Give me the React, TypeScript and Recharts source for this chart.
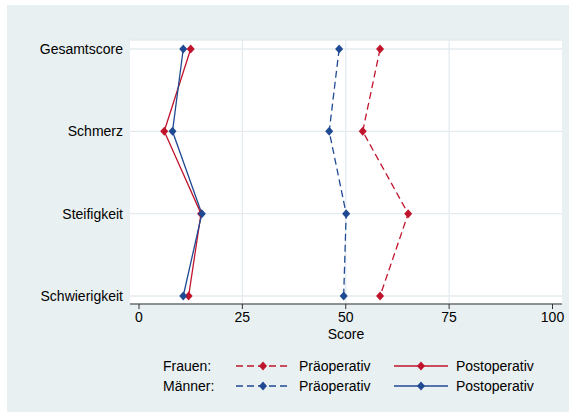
import React from 'react';
import { LineChart, Line, XAxis, YAxis, CartesianGrid, ReferenceLine } from 'recharts';

// WOMAC-Subskalen, Mittelwerte prä- und postoperativ nach Geschlecht
const categories = ['Gesamtscore', 'Schmerz', 'Steifigkeit', 'Schwierigkeit'];
const frauenPrae = [58.3, 54.1, 65.1, 58.3];
const frauenPost = [12.5, 6.1, 15.0, 12.0];
const maennerPrae = [48.4, 46.0, 50.1, 49.5];
const maennerPost = [10.7, 8.1, 15.2, 10.7];
const xTicks = [0, 25, 50, 75, 100];
const gridX = [25, 50, 75];

const RED = '#c0142c';
const BLUE = '#1f4a93';
const BG = '#e9f0f2';
const GRID = '#e4ecef';
const DASH = '7 4';
const FONT = '"Liberation Sans", Arial, Helvetica, sans-serif';

const rows = categories.map((name, i) => ({
  pos: i + 1,
  name,
  fPre: frauenPrae[i],
  fPost: frauenPost[i],
  mPre: maennerPrae[i],
  mPost: maennerPost[i],
}));

const diamond = (color: string) => (props: any) => {
  const { cx, cy, index } = props;
  if (cx == null || cy == null) return <g key={index} />;
  return (
    <polygon
      key={index}
      points={`${cx},${cy - 4.5} ${cx + 4},${cy} ${cx},${cy + 4.5} ${cx - 4},${cy}`}
      fill={color}
      stroke="none"
    />
  );
};

function LegendSample({ x, y, color, dashed }: { x: number; y: number; color: string; dashed: boolean }) {
  return (
    <g>
      <line x1={x} y1={y} x2={x + 54} y2={y} stroke={color} strokeWidth={1.3} strokeDasharray={dashed ? DASH : undefined} />
      <polygon points={`${x + 27},${y - 4.5} ${x + 31},${y} ${x + 27},${y + 4.5} ${x + 23},${y}`} fill={color} />
    </g>
  );
}

function LegendBox() {
  const rowsY = [361, 381];
  const groups = [
    { label: 'Frauen:', color: RED },
    { label: 'Männer:', color: BLUE },
  ];
  return (
    <svg width={562} height={407} style={{ position: 'absolute', left: 0, top: 0, pointerEvents: 'none' }}>
      {groups.map((g, i) => (
        <g key={g.label} fontFamily={FONT} fontSize={14} fill="#000">
          <text x={156} y={rowsY[i]} dy="0.36em">{g.label}</text>
          <LegendSample x={229} y={rowsY[i]} color={g.color} dashed />
          <text x={292} y={rowsY[i]} dy="0.36em">Präoperativ</text>
          <LegendSample x={387} y={rowsY[i]} color={g.color} dashed={false} />
          <text x={449} y={rowsY[i]} dy="0.36em">Postoperativ</text>
        </g>
      ))}
    </svg>
  );
}

export default function App() {
  return (
    <div style={{ position: 'absolute', left: 7, top: 5, width: 562, height: 407, background: BG, fontFamily: FONT }}>
      <LineChart
        width={562}
        height={407}
        data={rows}
        layout="vertical"
        margin={{ top: 35, right: 7, bottom: 68, left: 0 }}
      >
        <CartesianGrid vertical={false} stroke={GRID} strokeWidth={1.3} fill="#ffffff" />
        {gridX.map((v) => (
          <ReferenceLine key={v} x={v} stroke={GRID} strokeWidth={1.3} />
        ))}
        <XAxis
          type="number"
          dataKey="fPre"
          domain={[0, 100]}
          ticks={xTicks}
          padding={{ left: 9, right: 9.5 }}
          height={40}
          tickSize={5}
          tickMargin={3}
          stroke="#333"
          tick={{ fill: '#000', fontSize: 14, fontFamily: FONT }}
          tickLine={{ stroke: '#333' }}
          axisLine={{ stroke: '#333' }}
          label={{ value: 'Score', position: 'insideBottom', offset: 5, fill: '#000', fontSize: 14, fontFamily: FONT }}
          allowDataOverflow
        />
        <YAxis
          type="number"
          dataKey="pos"
          domain={[1, 4]}
          ticks={[1, 2, 3, 4]}
          width={123}
          padding={{ top: 9, bottom: 8 }}
          axisLine={false}
          tickLine={false}
          tickSize={0}
          tickMargin={7}
          tick={{ fill: '#000', fontSize: 14, fontFamily: FONT }}
          tickFormatter={(v: number) => categories[v - 1]}
        />
        <Line dataKey="fPre" stroke={RED} strokeWidth={1.3} strokeDasharray={DASH} dot={diamond(RED)} isAnimationActive={false} />
        <Line dataKey="fPost" stroke={RED} strokeWidth={1.3} dot={diamond(RED)} isAnimationActive={false} />
        <Line dataKey="mPre" stroke={BLUE} strokeWidth={1.3} strokeDasharray={DASH} dot={diamond(BLUE)} isAnimationActive={false} />
        <Line dataKey="mPost" stroke={BLUE} strokeWidth={1.3} dot={diamond(BLUE)} isAnimationActive={false} />
      </LineChart>
      <LegendBox />
    </div>
  );
}
